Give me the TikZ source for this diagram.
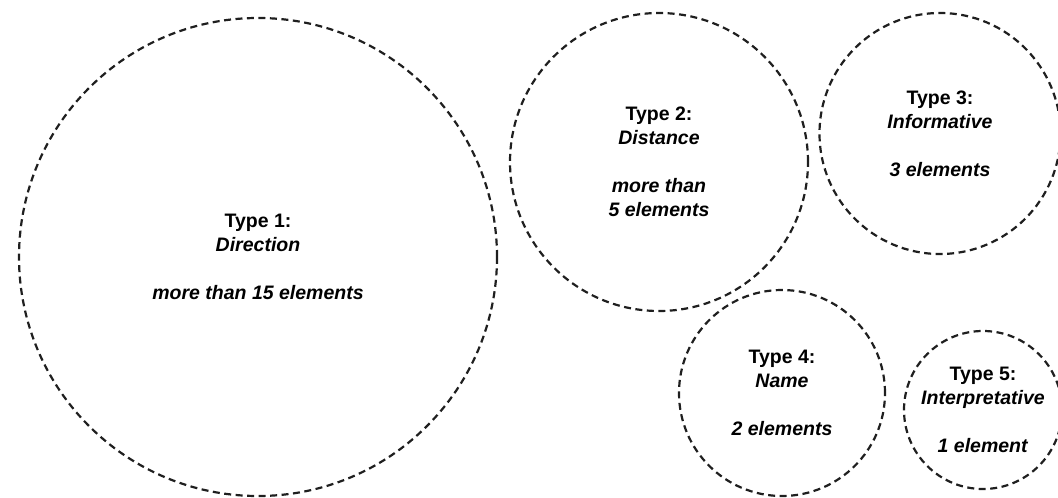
\documentclass[tikz,border=0pt]{standalone}
\usepackage{fontspec}
\setmainfont{Liberation Sans}
\usetikzlibrary{positioning}

\begin{document}
\begin{tikzpicture}[x=1pt, y=-1pt,
    group/.style={circle, draw=black!88, line width=2.2pt, dash pattern=on 7pt off 4.5pt,
        inner sep=0pt, align=center, font=\fontsize{19.5}{24}\selectfont}]
    \useasboundingbox (0,0) rectangle (1058,498);
    % Type 1
    \node[group, minimum size=478pt] (direction) at (258,257)
        {\textbf{Type 1:}\\\textbf{\textit{Direction}}\\[24pt]\textbf{\textit{more than 15 elements}}};
    % Type 2
    \node[group, minimum size=298pt] (distance) at (659,162)
        {\textbf{Type 2:}\\\textbf{\textit{Distance}}\\[24pt]\textbf{\textit{more than}}\\\textbf{\textit{5 elements}}};
    % Type 3
    \node[group, minimum size=241pt] (informative) at (940,133.5)
        {\textbf{Type 3:}\\\textbf{\textit{Informative}}\\[24pt]\textbf{\textit{3 elements}}};
    % Type 4
    \node[group, minimum size=206pt] (name) at (782,393)
        {\textbf{Type 4:}\\\textbf{\textit{Name}}\\[24pt]\textbf{\textit{2 elements}}};
    % Type 5
    \node[group, minimum size=158pt] (interpretative) at (983,410)
        {\textbf{Type 5:}\\\textbf{\textit{Interpretative}}\\[24pt]\textbf{\textit{1 element}}};
\end{tikzpicture}
\end{document}
